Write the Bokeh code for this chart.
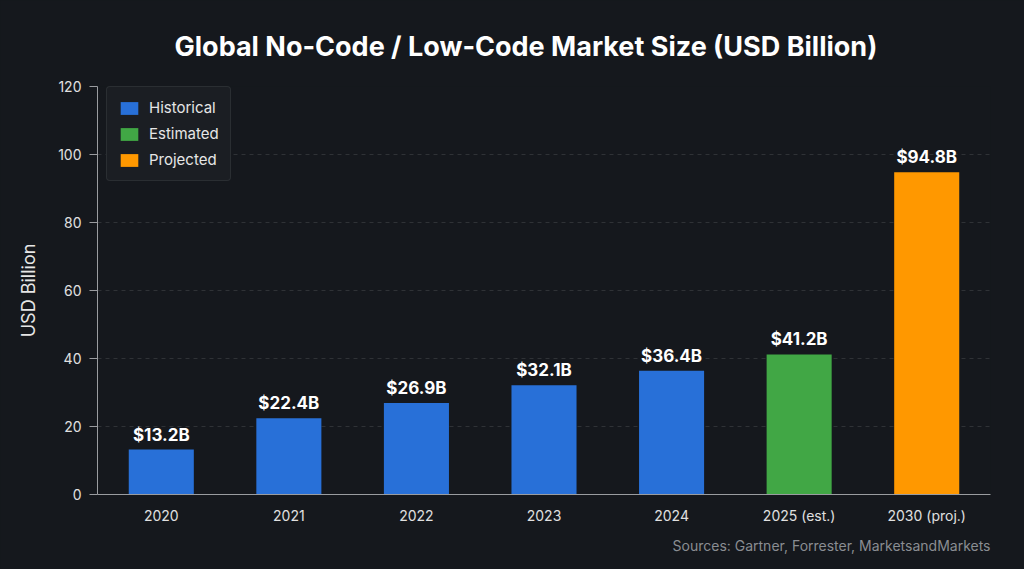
from bokeh.plotting import figure
from bokeh.models import ColumnDataSource, Legend, LegendItem, Range1d, FixedTicker, Title, LabelSet
from bokeh.core.properties import value
from bokeh.embed import file_html
from bokeh.resources import INLINE

categories = ["2020", "2021", "2022", "2023", "2024", "2025 (est.)", "2030 (proj.)"]
values = [13.2, 22.4, 26.9, 32.1, 36.4, 41.2, 94.8]
kinds = ["Historical", "Historical", "Historical", "Historical", "Historical", "Estimated", "Projected"]
labels = ["$13.2B", "$22.4B", "$26.9B", "$32.1B", "$36.4B", "$41.2B", "$94.8B"]
color_map = {"Historical": "#2870d8", "Estimated": "#41a745", "Projected": "#ff9800"}
y_ticks = [0, 20, 40, 60, 80, 100, 120]
grid_ticks = [20, 40, 60, 80, 100]

BG = "#15181d"
FONT = "Inter"

p = figure(x_range=categories, width=1024, height=569, output_backend="svg",
           toolbar_location=None, background_fill_color=BG, border_fill_color=BG,
           outline_line_color=None,
           min_border_left=97, min_border_right=34, min_border_top=86, min_border_bottom=75)
p.y_range = Range1d(0, 120)
p.x_range.range_padding = 0.0

title = Title(text="Global No-Code / Low-Code Market Size (USD Billion)", align="left",
              text_font=FONT, text_font_size="27px", text_font_style="bold",
              text_color="#ffffff", offset=77, standoff=47)
p.add_layout(title, "above")

src_note = Title(text="Sources: Gartner, Forrester, MarketsandMarkets", align="right",
                 text_font=FONT, text_font_size="14px", text_font_style="normal",
                 text_color="#8a8d92", standoff=17)
p.add_layout(src_note, "below")

items = []
for kind in ["Historical", "Estimated", "Projected"]:
    idx = [i for i, k in enumerate(kinds) if k == kind]
    src = ColumnDataSource(dict(x=[categories[i] for i in idx], top=[values[i] for i in idx],
                                lab=[labels[i] for i in idx]))
    r = p.vbar(x="x", top="top", width=0.51, source=src, fill_color=color_map[kind],
               line_color=None)
    items.append(LegendItem(label=kind, renderers=[r]))

all_src = ColumnDataSource(dict(x=categories, top=values, lab=labels))
p.add_layout(LabelSet(x="x", y="top", text="lab", source=all_src, text_align="center",
                      text_baseline="bottom", y_offset=5, text_font=value(FONT),
                      text_font_size=value("17px"), text_font_style=value("bold"),
                      text_color=value("#ffffff")))

legend = Legend(items=items, location=(9, 313), background_fill_color="#1b1e23",
                background_fill_alpha=1.0, border_line_color="#3a3d42",
                border_radius=4, label_text_color="#e6e6e6", label_text_font=FONT,
                label_text_font_size="15px", glyph_width=22, glyph_height=16,
                label_standoff=9, spacing=7, padding=11, margin=0)
p.add_layout(legend)

p.yaxis.ticker = FixedTicker(ticks=y_ticks)
p.yaxis.axis_label = "USD Billion"
p.yaxis.axis_label_text_font = FONT
p.yaxis.axis_label_text_font_size = "18px"
p.yaxis.axis_label_text_font_style = "normal"
p.yaxis.axis_label_text_color = "#e6e6e6"
p.yaxis.axis_label_standoff = 16
for ax in (p.xaxis, p.yaxis):
    ax.axis_line_color = "#9a9ca0"
    ax.major_label_text_color = "#e0e0e0"
    ax.major_label_text_font = FONT
    ax.major_label_text_font_size = "14px"
    ax.minor_tick_line_color = None
p.yaxis.major_tick_line_color = "#9a9ca0"
p.yaxis.major_tick_out = 8
p.yaxis.major_tick_in = 0
p.yaxis.major_label_standoff = 8
p.xaxis.major_tick_line_color = None
p.xaxis.major_label_standoff = 6

p.xgrid.grid_line_color = None
p.ygrid.ticker = FixedTicker(ticks=grid_ticks)
p.ygrid.grid_line_color = "#3a3d42"
p.ygrid.grid_line_dash = "4 4"
p.ygrid.grid_line_alpha = 0.7

html = file_html(p, INLINE)
html = html.replace("<head>", "<head><style>html,body{background:%s;margin:0;}</style>" % BG, 1)
open("out.html", "w").write(html)
